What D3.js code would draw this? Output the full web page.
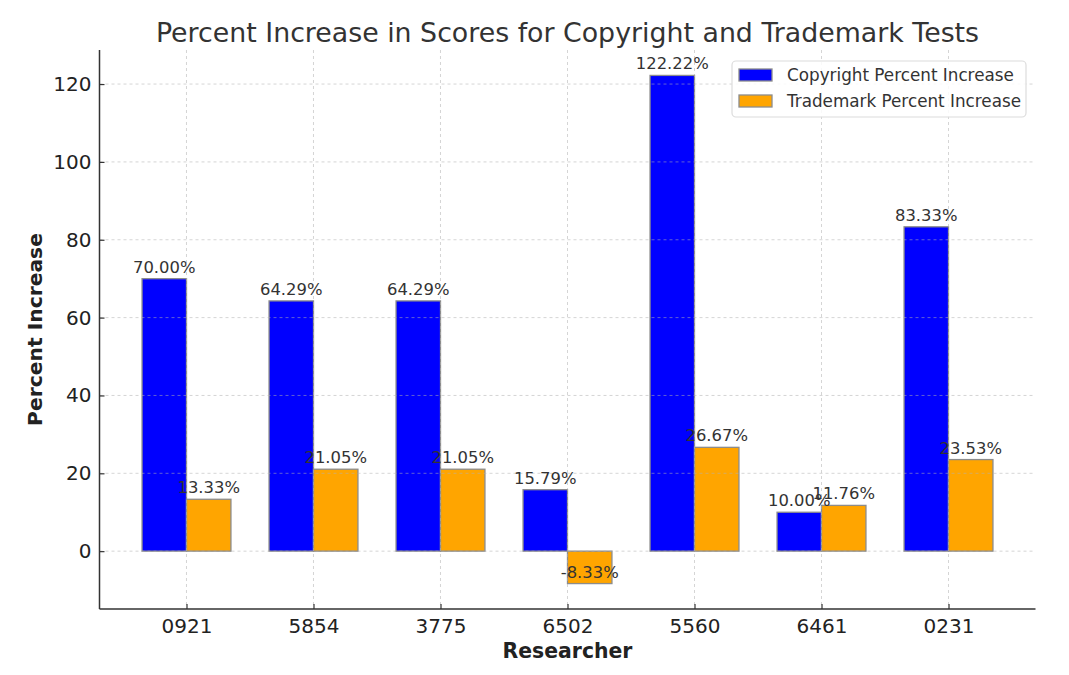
<!DOCTYPE html>
<html>
<head>
<meta charset="utf-8">
<script src="https://cdn.jsdelivr.net/npm/d3@7"></script>
<style>
  html, body { margin: 0; padding: 0; background: #fff; }
  svg { display: block; font-family: "DejaVu Sans", sans-serif; }
</style>
</head>
<body>
<svg id="chart" width="1069" height="675"></svg>
<script>
const researchers = ["0921", "5854", "3775", "6502", "5560", "6461", "0231"];
const copyrightIncrease = [70.00, 64.29, 64.29, 15.79, 122.22, 10.00, 83.33];
const trademarkIncrease = [13.33, 21.05, 21.05, -8.33, 26.67, 11.76, 23.53];
const yTicks = [0, 20, 40, 60, 80, 100, 120];
const seriesNames = ["Copyright Percent Increase", "Trademark Percent Increase"];
const seriesColors = ["#0000ff", "#ffa500"];

(function () {
const svg = d3.select("#chart");
const pL = 99.5, pR = 1035.5, pT = 50, pB = 609;
const barW = 0.35;

const x = d3.scaleLinear().domain([-0.685, researchers.length - 1 + 0.685]).range([pL, pR]);
const y = d3.scaleLinear().domain([-14.86, 128.75]).range([pB, pT]);

const series = [copyrightIncrease, trademarkIncrease];

// bars
series.forEach((vals, si) => {
  const off = si === 0 ? -barW / 2 : barW / 2;
  svg.append("g").selectAll("rect").data(vals).join("rect")
    .attr("x", (d, i) => x(i + off - barW / 2))
    .attr("width", x(barW) - x(0))
    .attr("y", d => y(Math.max(0, d)))
    .attr("height", d => Math.abs(y(d) - y(0)))
    .attr("fill", seriesColors[si])
    .attr("stroke", "#8c8c8c")
    .attr("stroke-width", 1.3);
});

// grid (drawn over bars, semi-transparent)
const grid = svg.append("g").attr("stroke", "#b0b0b0").attr("stroke-opacity", 0.6)
  .attr("stroke-dasharray", "3,3").attr("stroke-width", 0.9);
grid.selectAll("line.h").data(yTicks).join("line").attr("class", "h")
  .attr("x1", pL).attr("x2", pR).attr("y1", d => y(d)).attr("y2", d => y(d));
grid.selectAll("line.v").data(researchers).join("line").attr("class", "v")
  .attr("x1", (d, i) => x(i)).attr("x2", (d, i) => x(i)).attr("y1", pT).attr("y2", pB);

// value labels
series.forEach((vals, si) => {
  const off = si === 0 ? -barW / 2 : barW / 2;
  svg.append("g").selectAll("text").data(vals).join("text")
    .attr("x", (d, i) => x(i + off))
    .attr("y", d => y(d) - 6)
    .attr("text-anchor", "middle")
    .attr("font-size", 16.4)
    .attr("fill", "#333")
    .text(d => d.toFixed(2) + "%");
});

// axes
const yAxis = d3.axisLeft(y).tickValues(yTicks).tickSize(-5).tickPadding(8);
const gy = svg.append("g").attr("transform", `translate(${pL},0)`).call(yAxis);
const xAxis = d3.axisBottom(x).tickValues(d3.range(researchers.length))
  .tickFormat(i => researchers[i]).tickSize(-5).tickPadding(10);
const gx = svg.append("g").attr("transform", `translate(0,${pB})`).call(xAxis);
[gx, gy].forEach(g => {
  g.select(".domain").remove();
  g.selectAll(".tick line").attr("stroke", "#333").attr("stroke-width", 1.2);
  g.selectAll(".tick text").attr("font-size", 20).attr("fill", "#222")
    .attr("font-family", "DejaVu Sans, sans-serif");
});
svg.append("line").attr("x1", pL).attr("x2", pL).attr("y1", pT).attr("y2", pB)
  .attr("stroke", "#333").attr("stroke-width", 1.5);
svg.append("line").attr("x1", pL).attr("x2", pR).attr("y1", pB).attr("y2", pB)
  .attr("stroke", "#333").attr("stroke-width", 1.5);

// titles
svg.append("text").attr("x", (pL + pR) / 2).attr("y", 42).attr("text-anchor", "middle")
  .attr("font-size", 26.8).attr("fill", "#333")
  .text("Percent Increase in Scores for Copyright and Trademark Tests");
svg.append("text").attr("x", (pL + pR) / 2).attr("y", 658).attr("text-anchor", "middle")
  .attr("font-size", 20.4).attr("font-weight", "bold").attr("fill", "#222").text("Researcher");
svg.append("text").attr("transform", `translate(42,${(pT + pB) / 2}) rotate(-90)`)
  .attr("text-anchor", "middle").attr("font-size", 20.3).attr("font-weight", "bold")
  .attr("fill", "#222").text("Percent Increase");

// legend
const lg = svg.append("g");
lg.append("rect").attr("x", 732).attr("y", 61).attr("width", 294).attr("height", 56)
  .attr("rx", 4).attr("fill", "#fff").attr("fill-opacity", 0.85)
  .attr("stroke", "#dcdcdc").attr("stroke-width", 1.2);
seriesNames.forEach((name, i) => {
  lg.append("rect").attr("x", 739).attr("y", 69 + i * 26).attr("width", 33).attr("height", 12)
    .attr("fill", seriesColors[i]).attr("stroke", "#8c8c8c").attr("stroke-width", 1.3);
  lg.append("text").attr("x", 787).attr("y", 81 + i * 25.5).attr("font-size", 16.8)
    .attr("fill", "#333").text(name);
});
})();
</script>
</body>
</html>
